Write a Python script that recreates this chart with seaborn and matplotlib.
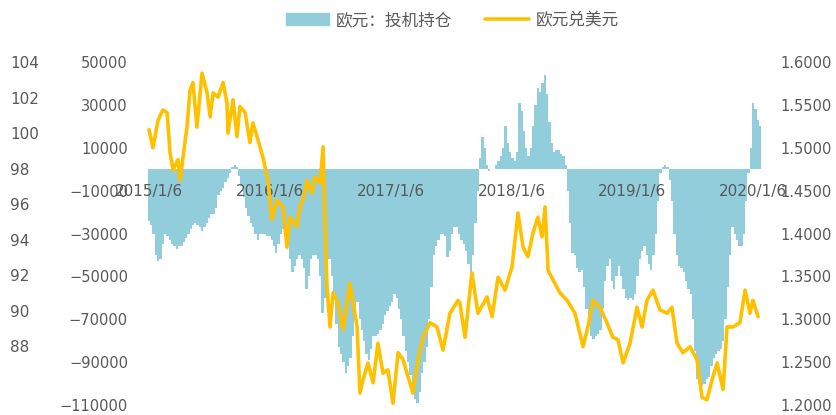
import numpy as np
import pandas as pd
import matplotlib
matplotlib.use('Agg')
import matplotlib.pyplot as plt
import seaborn as sns
from matplotlib.patches import Patch
from matplotlib.lines import Line2D
from matplotlib.ticker import FormatStrFormatter

# weekly net position, first week 2015/1/6
start = pd.Timestamp('2015-01-06')
net_pos = [
    -24000, -26000, -30000, -40000, -43000, -42000, -35000, -30000, -31000, -33000,
    -35000, -36000, -37000, -36000, -36000, -34000, -32000, -30000, -28000, -26000,
    -25000, -26000, -27000, -29000, -27000, -25000, -23000, -21000, -21000, -18000,
    -12000, -10000, -9000, -6000, -4000, -2000, 1000, 2000, 1000, -3000,
    -8000, -13000, -18000, -22000, -25000, -27000, -30000, -33000, -30000, -30000,
    -30000, -31000, -31000, -33000, -36000, -39000, -35000, -30000, -28000, -27000,
    -35000, -42000, -48000, -45000, -42000, -40000, -42000, -46000, -56000, -50000,
    -42000, -40000, -40000, -42000, -50000, -67000, -60000, -45000, -42000, -50000,
    -60000, -72000, -83000, -86000, -90000, -95000, -92000, -88000, -78000, -70000,
    -62000, -70000, -75000, -80000, -86000, -89000, -84000, -78000, -78000,
    -77000, -75000, -72000, -68000, -66000, -64000, -62000, -58000, -60000, -65000,
    -70000, -78000, -85000, -90000, -96000, -102000, -107000, -109000, -104000, -95000,
    -90000, -83000, -70000, -55000, -40000, -36000, -33000, -30000, -30000, -31000,
    -41000, -38000, -30000, -27000, -27000, -30000, -33000, -35000, -38000, -44000,
    -48000, -40000, -25000, -10000, 5000, 15000, 10000, 2000, -1000, 0,
    0, 2000, 4000, 6000, 10000, 20000, 12000, 8000, 5000, 4000,
    8000, 31000, 27000, 18000, 10000, 6000, 10000, 20000, 30000, 38000,
    36000, 40000, 44000, 35000, 22000, 12000, 8000, 9000, 9000, 7000,
    6000, 2000, -10000, -25000, -39000, -40000, -46000, -48000, -47000, -55000,
    -65000, -72000, -78000, -79000, -78000, -77000, -75000, -65000, -52000, -45000,
    -42000, -52000, -56000, -50000, -45000, -50000, -56000, -60000, -61000, -60000,
    -61000, -58000, -50000, -42000, -38000, -36000, -40000, -44000, -47000, -40000,
    -30000, -15000, -2000, 1000, 2000, 1000, -5000, -15000, -30000, -40000,
    -45000, -46000, -48000, -52000, -56000, -58000, -70000, -85000, -98000, -100000,
    -101000, -100000, -98000, -97000, -92000, -88000, -86000, -85000, -84000,
    -80000, -70000, -55000, -40000, -27000, -30000, -33000, -36000, -36000, -30000,
    -15000, -2000, 10000, 31000, 28000, 23000, 20000,
]
weeks = np.arange(len(net_pos))

# EUR/USD, position in weeks since 2015/1/6
eur_week = [
    0.0, 1.7, 3.9, 6.0, 7.8, 9.1, 10.4, 12.5, 13.4, 14.7,
    16.4, 17.7, 19.0, 20.7, 22.9, 25.1, 26.4, 27.7, 29.8, 32.0,
    33.7, 34.1, 36.3, 38.0, 39.3, 41.5, 43.6, 44.9, 47.1, 49.2,
    51.4, 53.1, 55.3, 57.9, 59.6, 60.9, 63.9, 65.2, 66.5, 68.3,
    70.4, 71.7, 73.9, 75.2, 76.0, 76.9, 78.2, 79.5, 81.6, 83.8,
    86.8, 89.9, 91.1, 92.4, 94.6, 96.8, 98.9, 101.1, 103.2, 105.4,
    107.6, 109.7, 111.9, 114.0, 116.2, 118.4, 121.4, 124.4, 127.0, 130.0,
    133.5, 134.3, 136.5, 139.5, 142.1, 146.0, 148.2, 150.8, 153.8, 156.8,
    159.4, 161.6, 163.7, 165.9, 168.0, 169.8, 171.1, 172.4, 174.5, 177.5,
    180.6, 184.0, 187.5, 189.6, 191.8, 194.8, 197.8, 200.4, 202.6, 204.8,
    207.8, 210.8, 213.0, 215.1, 217.7, 220.7, 223.8, 225.9, 228.1, 230.7,
    233.7, 236.7, 238.9, 241.0, 243.2, 245.4, 248.0, 249.7, 252.3, 255.3,
    257.5, 259.6, 260.9, 263.1,
]
eur_rate = [
    1.521, 1.500, 1.532, 1.544, 1.541, 1.494, 1.474, 1.486, 1.462, 1.489,
    1.524, 1.567, 1.576, 1.524, 1.587, 1.564, 1.536, 1.564, 1.559, 1.576,
    1.552, 1.517, 1.556, 1.513, 1.548, 1.541, 1.506, 1.529, 1.509, 1.489,
    1.462, 1.416, 1.439, 1.431, 1.384, 1.419, 1.408, 1.431, 1.439, 1.462,
    1.447, 1.466, 1.459, 1.501, 1.416, 1.338, 1.291, 1.331, 1.319, 1.288,
    1.342, 1.291, 1.214, 1.229, 1.249, 1.226, 1.272, 1.237, 1.241, 1.202,
    1.261, 1.253, 1.233, 1.214, 1.253, 1.279, 1.296, 1.291, 1.264, 1.307,
    1.322, 1.319, 1.279, 1.354, 1.307, 1.326, 1.303, 1.349, 1.334, 1.361,
    1.424, 1.384, 1.373, 1.401, 1.419, 1.396, 1.431, 1.357, 1.346, 1.331,
    1.322, 1.307, 1.268, 1.291, 1.322, 1.314, 1.296, 1.279, 1.276, 1.249,
    1.272, 1.314, 1.291, 1.322, 1.334, 1.311, 1.307, 1.314, 1.272, 1.261,
    1.268, 1.253, 1.209, 1.206, 1.229, 1.249, 1.218, 1.291, 1.291, 1.296,
    1.334, 1.307, 1.322, 1.303,
]

tick_dates = ['2015/1/6', '2016/1/6', '2017/1/6', '2018/1/6', '2019/1/6', '2020/1/6']
tick_pos = [(pd.Timestamp(d) - start).days / 7 for d in tick_dates]

legend_labels = ['欧元：投机持仓', '欧元兑美元']
bar_color = '#92CDDC'
line_color = '#FFC000'
text_color = '#595959'

sns.set_style('white')
plt.rcParams['font.family'] = ['DejaVu Sans', 'Noto Sans CJK SC']

fig = plt.figure(figsize=(8.36, 4.15), dpi=100)
ax = fig.add_axes([146 / 836, 10 / 415, 622 / 836, 343 / 415])

sns.barplot(x=weeks, y=net_pos, native_scale=True, color=bar_color,
            saturation=1, width=1.0, linewidth=0, errorbar=None, ax=ax)
ax.set_axisbelow(False)
ax.set_ylim(-110000, 50000)
ax.set_yticks(range(-110000, 50001, 20000))
ax.set_xticks(tick_pos, tick_dates)
ax.spines['bottom'].set_position(('data', 0))
for s in ax.spines.values():
    s.set_visible(False)
ax.tick_params(axis='x', length=0, pad=11, labelsize=11, labelcolor=text_color)
ax.tick_params(axis='y', length=0, pad=13, labelsize=10.5, labelcolor=text_color)
ax.set_xlabel('')
ax.set_ylabel('')

# exchange rate on the right
ax2 = ax.twinx()
sns.lineplot(x=eur_week, y=eur_rate, ax=ax2, color=line_color,
             linewidth=2.6, estimator=None)
ax2.set_ylim(1.2, 1.6)
ax2.set_yticks(np.linspace(1.2, 1.6, 9))
ax2.yaxis.set_major_formatter(FormatStrFormatter('%.4f'))
ax2.tick_params(length=0, pad=9, labelsize=10.5, labelcolor=text_color)
for s in ax2.spines.values():
    s.set_visible(False)
ax2.set_ylabel('')

# the extra outer scale on the left
ax3 = ax.twinx()
ax3.set_ylim(104 - 343 / 17.75, 104)
ax3.set_yticks(range(88, 105, 2))
ax3.yaxis.tick_left()
ax3.tick_params(length=0, pad=98, labelsize=11, labelcolor=text_color)
plt.setp(ax3.get_yticklabels(), ha='left')
for s in ax3.spines.values():
    s.set_visible(False)

ax.set_xlim(-1.3, 267.4)

handles = [Patch(color=bar_color), Line2D([], [], color=line_color, linewidth=2.6)]
fig.legend(handles, legend_labels, loc='center', bbox_to_anchor=(452 / 836, 1 - 20 / 415),
           ncol=2, frameon=False, fontsize=12, handlelength=2.6, handleheight=0.7,
           handletextpad=0.4, columnspacing=2.0, labelcolor=text_color)

fig.savefig('out.png', dpi=100)
